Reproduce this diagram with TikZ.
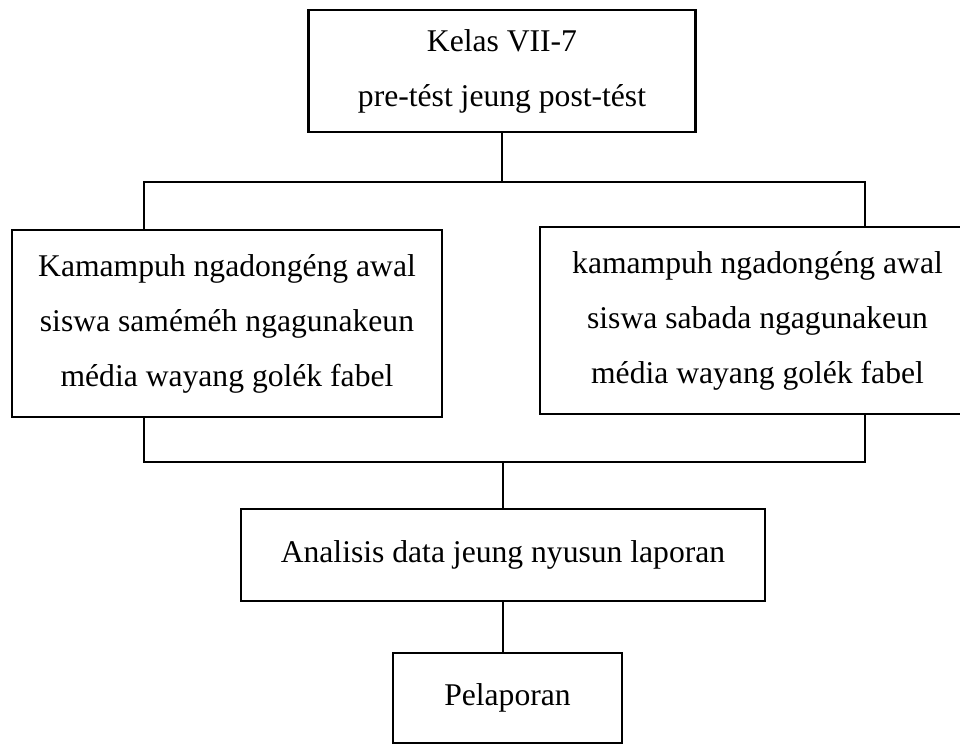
\documentclass[tikz,border=0pt]{standalone}
\usepackage{fontspec}
\setmainfont{Liberation Serif}
\usetikzlibrary{positioning}

\tikzstyle{stage} = [draw, line width=1.3pt, inner sep=0pt, align=center,
    font=\fontsize{18}{31.3}\selectfont]
\tikzstyle{thick bar} = [line width=1.3pt]
\tikzstyle{thin bar} = [line width=0.6pt]

\begin{document}
\begin{tikzpicture}[x=0.02cm, y=-0.02cm]
\clip (0,0) rectangle (960,745);

% boxes
\node[stage, minimum width=7.74cm, minimum height=2.44cm] (kelas) at (502,71)
    {Kelas VII-7\\pre-tést jeung post-tést};
\node[stage, minimum width=8.6cm, minimum height=3.74cm] (awal) at (227,323.5)
    {Kamampuh ngadongéng awal\\siswa saméméh ngagunakeun\\média wayang golék fabel};
\node[stage, minimum width=8.7cm, minimum height=3.74cm] (sabada) at (757.5,320.5)
    {kamampuh ngadongéng awal\\siswa sabada ngagunakeun\\média wayang golék fabel};
\node[stage, minimum width=10.48cm, minimum height=1.84cm] (analisis) at (503,555)
    {Analisis data jeung nyusun laporan};
\node[stage, minimum width=4.58cm, minimum height=1.8cm] (lapor) at (507.5,698)
    {Pelaporan};

% bars
\coordinate (topL) at (144,182);
\coordinate (topR) at (865,182);
\coordinate (botL) at (144,462);
\coordinate (botR) at (865,462);

\draw[thin bar] (kelas.south) -- (kelas.south |- topL);
\draw[thick bar] (topL |- awal.north) -- (topL) -- (topR) -- (topR |- sabada.north);
\draw[thick bar] (topL |- awal.south) -- (botL) -- (botR) -- (topR |- sabada.south);
\draw[thin bar] (analisis.north) -- (analisis.north |- botL);
\draw[thin bar] (analisis.south) -- (analisis.south |- lapor.north);
\end{tikzpicture}
\end{document}
